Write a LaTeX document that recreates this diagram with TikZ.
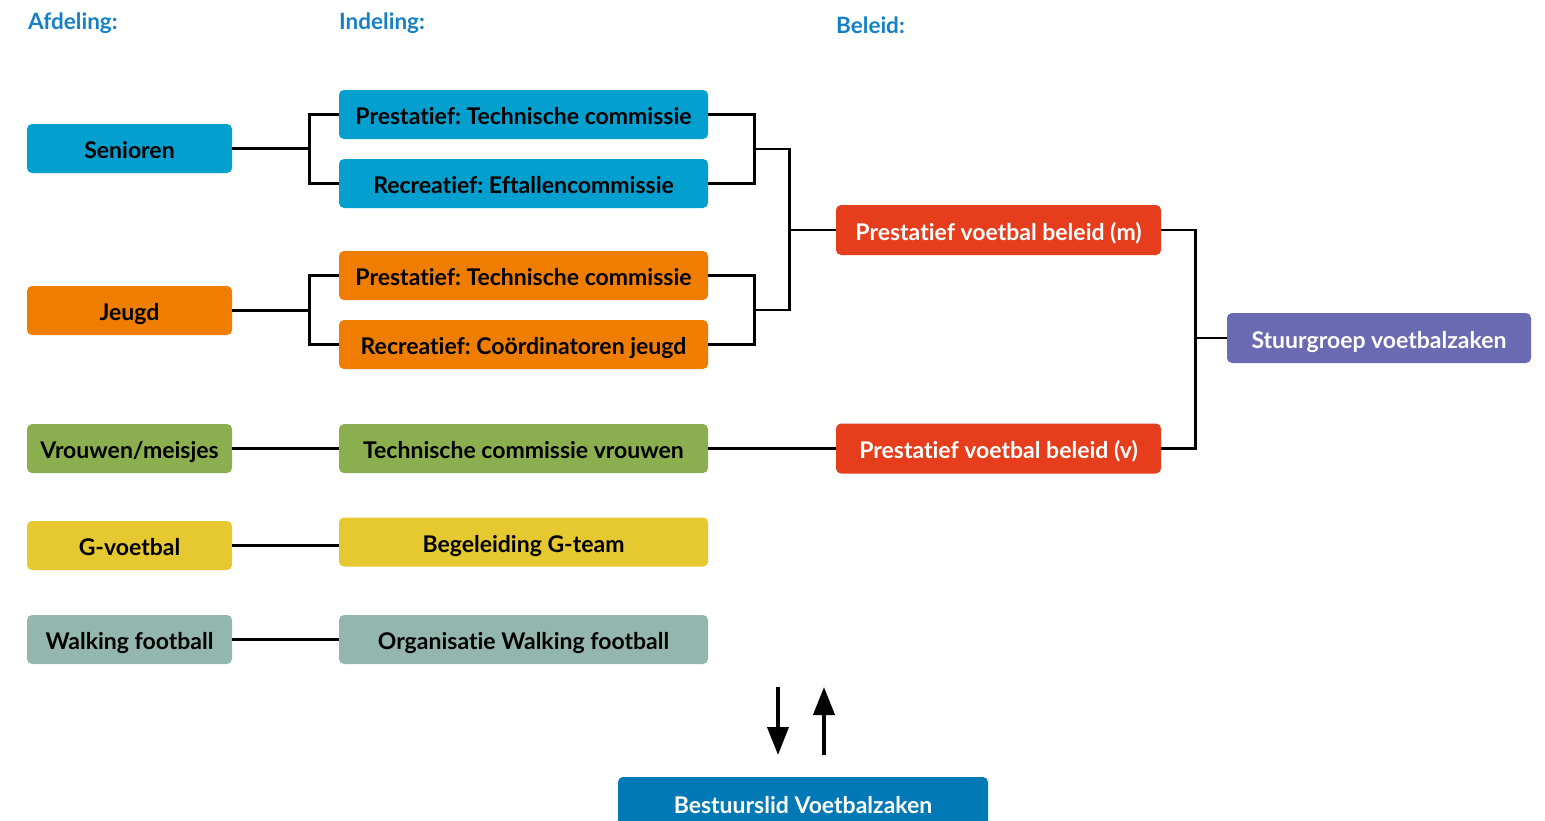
\documentclass[tikz,border=0pt]{standalone}
\usepackage{fontspec}
\setmainfont{Lato}[Ligatures=NoCommon]
\frenchspacing
\usetikzlibrary{calc,arrows.meta}
\definecolor{cblue}{HTML}{039FCE}
\definecolor{corange}{HTML}{EF7D00}
\definecolor{cgreen}{HTML}{8BAE4F}
\definecolor{cyellow}{HTML}{E6C830}
\definecolor{cteal}{HTML}{93B7AF}
\definecolor{cred}{HTML}{E63E1C}
\definecolor{cpurple}{HTML}{6A6AB3}
\definecolor{cdblue}{HTML}{0079B6}
\definecolor{chead}{HTML}{1580C6}
\tikzset{
  box/.style={rounded corners=5pt, inner sep=0pt, minimum height=49pt, text=black,
    text height=20pt, text depth=0pt,
    font=\bfseries\fontsize{23}{23}\selectfont},
  lbox/.style={box, minimum width=205pt},
  mbox/.style={box, minimum width=369pt},
  rbox/.style={box, minimum width=325pt, minimum height=50pt, fill=cred, text=white},
  head/.style={anchor=base west, inner sep=0pt, text=chead, font=\bfseries\fontsize{22.5}{22.5}\selectfont},
  conn/.style={line width=2.6pt, black},
  bigarrow/.style={line width=4pt, -{Triangle[width=21pt,length=28pt]}},
}
\begin{document}
\begin{tikzpicture}[x=1pt,y=-1pt]
\useasboundingbox (0,0) rectangle (1545,820);
% headers
\node[head] (h1) at (28,29) {Afdeling:};
\node[head] (h2) at (339,29) {Indeling:};
\node[head] (h3) at (836,33) {Beleid:};
% left column
\node[lbox, fill=cblue] (sen) at (129.5,148.5) {Senioren};
\node[lbox, fill=corange] (jeu) at (129.5,310.5) {Jeugd};
\node[lbox, fill=cgreen] (vro) at (129.5,448.5) {Vrouwen/meisjes};
\node[lbox, fill=cyellow] (gvo) at (129.5,545.5) {G-voetbal};
\node[lbox, fill=cteal] (wal) at (129.5,639.5) {Walking football};
% middle column
\node[mbox, fill=cblue] (pt1) at (523.5,114.5) {Prestatief: Technische commissie};
\node[mbox, fill=cblue] (re1) at (523.5,183.5) {Recreatief: Eftallencommissie};
\node[mbox, fill=corange] (pt2) at (523.5,275.5) {Prestatief: Technische commissie};
\node[mbox, fill=corange] (re2) at (523.5,344.5) {Recreatief: Coördinatoren jeugd};
\node[mbox, fill=cgreen] (tcv) at (523.5,448.5) {Technische commissie vrouwen};
\node[mbox, fill=cyellow] (beg) at (523.5,542) {Begeleiding G-team};
\node[mbox, fill=cteal] (org) at (523.5,639.5) {Organisatie Walking football};
% policy
\node[rbox] (pbm) at (998.5,230) {Prestatief voetbal beleid (m)};
\node[rbox] (pbv) at (998.5,448.5) {Prestatief voetbal beleid (v)};
\node[box, minimum width=304pt, minimum height=50pt, fill=cpurple, text=white] (stu) at (1379,338) {Stuurgroep voetbalzaken};
\node[box, minimum width=370pt, minimum height=52pt, fill=cdblue, text=white] (bes) at (803,803) {Bestuurslid Voetbalzaken};
% connectors left
\draw[conn] (sen.east) -- ++(77,0) |- (pt1.west);
\draw[conn] (sen.east) -- ++(77,0) |- (re1.west);
\draw[conn] (jeu.east) -- ++(77,0) |- (pt2.west);
\draw[conn] (jeu.east) -- ++(77,0) |- (re2.west);
\draw[conn] (vro) -- (tcv);
\draw[conn] (gvo.east) -- (gvo.east -| beg.west);
\draw[conn] (wal) -- (org);
% connectors right
\draw[conn] (pt1.east) -- ++(46,0) |- (re1.east);
\draw[conn] (pt2.east) -- ++(46,0) |- (re2.east);
\coordinate (j1) at ($(pt1.east)!0.5!(re1.east)+(46,0)$);
\coordinate (j2) at ($(pt2.east)!0.5!(re2.east)+(46,0)$);
\draw[conn] (j1) -- ++(35,0) |- (pbm.west);
\draw[conn] (j2) -- ++(35,0) |- (pbm.west);
\draw[conn] (tcv) -- (pbv);
\draw[conn] (pbm.east) -- ++(34,0) |- (stu.west);
\draw[conn] (pbv.east) -- ++(34,0) |- (stu.west);
% arrows
\coordinate (a1s) at (778,687);
\coordinate (a1e) at (778,755);
\coordinate (a2s) at (824,755);
\coordinate (a2e) at (824,687);
\draw[bigarrow] (a1s) -- (a1e);
\draw[bigarrow] (a2s) -- (a2e);
\end{tikzpicture}
\end{document}
